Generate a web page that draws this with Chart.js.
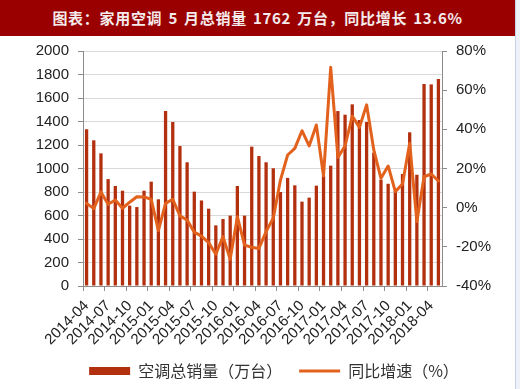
<!DOCTYPE html>
<html>
<head>
<meta charset="utf-8">
<script src="https://cdn.jsdelivr.net/npm/chart.js@4/dist/chart.umd.min.js"></script>
<style>
  html, body { margin: 0; padding: 0; background: #ffffff; }
  #wrap { position: relative; width: 520px; height: 389px; overflow: hidden; }
  #title {
    position: absolute; left: 0; top: 0; width: 515px; height: 36px;
    background: #9b0000; color: #f4ecec;
    font-family: "Noto Sans CJK SC", sans-serif; font-size: 15px; font-weight: bold;
    line-height: 36px; text-align: center; white-space: pre; letter-spacing: 0.7px; word-spacing: 2px;
  }
  #edge { position: absolute; left: 515px; top: 0; width: 5px; height: 389px; background: #eef2f8; border-left: 1px solid #c5d2e6; }
  canvas { position: absolute; left: 0; top: 0; }
</style>
</head>
<body>
<div id="wrap">
  <canvas id="c" width="520" height="389"></canvas>
  <div id="title">图表：家用空调 5 月总销量 1762 万台，同比增长 13.6%</div>
  <div id="edge"></div>
</div>
<script>
const months = [
  "2014-04","2014-05","2014-06","2014-07","2014-08","2014-09","2014-10","2014-11","2014-12",
  "2015-01","2015-02","2015-03","2015-04","2015-05","2015-06","2015-07","2015-08","2015-09","2015-10","2015-11","2015-12",
  "2016-01","2016-02","2016-03","2016-04","2016-05","2016-06","2016-07","2016-08","2016-09","2016-10","2016-11","2016-12",
  "2017-01","2017-02","2017-03","2017-04","2017-05","2017-06","2017-07","2017-08","2017-09","2017-10","2017-11","2017-12",
  "2018-01","2018-02","2018-03","2018-04","2018-05"
];
const salesVolume = [
  1334,1240,1129,910,851,811,684,672,811,
  888,738,1489,1396,1191,1053,803,728,658,516,570,599,
  851,599,1186,1106,1053,1002,800,920,857,718,752,854,
  936,1024,1489,1458,1546,1413,1396,1135,905,870,812,953,
  1308,947,1719,1716,1762
];
const yoyGrowth = [
  2.2,-0.5,8.0,1.7,3.9,-0.3,2.8,5.6,5.5,
  4.3,-11.7,2.2,4.3,-4.2,-6.3,-12.5,-14.5,-17.8,-23.8,-14.8,-26.4,
  -4.6,-19.1,-20.2,-20.8,-12.2,-5.4,14.1,26.9,30.3,39.3,31.5,42.2,
  16.2,71.7,25.7,31.5,46.8,41.0,52.5,29.5,15.0,21.3,8.2,12.1,
  32.9,-7.1,15.8,17.2,13.6
];
const seriesNames = ["空调总销量（万台）", "同比增速（%）"];
const leftTicks = { min: 0, max: 2000, step: 200 };
const rightTicks = { min: -40, max: 80, step: 20 };
const labelEvery = 3;

const barColor = "#b3300f";
const lineColor = "#e2611c";
const tickFont = { family: "'Liberation Sans', 'Open Sans', sans-serif", size: 15 };

const legendShift = {
  id: "legendShift",
  afterLayout(chart) {
    const lg = chart.legend;
    if (lg) { lg.left += 14; lg.right += 14; }
  }
};

const chart = new Chart(document.getElementById("c"), {
  data: {
    labels: months,
    datasets: [
      {
        type: "bar", label: seriesNames[0], data: salesVolume, yAxisID: "y",
        backgroundColor: barColor, borderWidth: 0, order: 1,
        barPercentage: 0.46, categoryPercentage: 1.0, pointStyle: "rect"
      },
      {
        type: "line", label: seriesNames[1], data: yoyGrowth, yAxisID: "y1",
        borderColor: lineColor, backgroundColor: lineColor, borderWidth: 3,
        pointRadius: 0, tension: 0, order: 0, pointStyle: "line",
        borderJoinStyle: "round", borderCapStyle: "round"
      }
    ]
  },
  plugins: [legendShift],
  options: {
    responsive: false, animation: false, devicePixelRatio: 1,
    layout: { padding: { top: 51, left: 0, right: 0, bottom: 2 } },
    plugins: {
      tooltip: { enabled: false },
      legend: {
        position: "bottom",
        labels: {
          usePointStyle: true, pointStyleWidth: 41, boxHeight: 8,
          padding: 17, color: "#333",
          font: { family: "'Noto Sans CJK SC', sans-serif", size: 16 },
          sort: (a, b) => a.datasetIndex - b.datasetIndex
        }
      }
    },
    scales: {
      x: {
        type: "category", offset: true,
        grid: {
          offset: true, drawOnChartArea: false, drawTicks: true, tickLength: 5,
          color: (ctx) => (ctx.index !== undefined && ctx.index % labelEvery === 0) ? "#8c8c8c" : "rgba(0,0,0,0)"
        },
        border: { display: true, color: "#8c8c8c", width: 1 },
        ticks: {
          autoSkip: false, minRotation: 45, maxRotation: 45, padding: 6,
          color: "#222", font: tickFont,
          callback: function (v, i) { return i % labelEvery === 0 ? this.getLabelForValue(v) : ""; }
        },
        afterFit: (s) => { s.height = 60; }
      },
      y: {
        position: "left", min: leftTicks.min, max: leftTicks.max,
        grid: { color: "#d9d9d9", tickColor: "#8c8c8c", tickLength: 5, lineWidth: 1 },
        border: { display: true, color: "#8c8c8c" },
        ticks: { stepSize: leftTicks.step, color: "#222", font: tickFont, padding: 9,
          callback: (v) => String(v) },
        afterFit: (s) => { s.width = 83; }
      },
      y1: {
        position: "right", min: rightTicks.min, max: rightTicks.max,
        grid: { drawOnChartArea: false, tickColor: "#8c8c8c", tickLength: 5 },
        border: { display: true, color: "#8c8c8c" },
        ticks: { stepSize: rightTicks.step, color: "#222", font: tickFont, padding: 9,
          callback: (v) => v + "%" },
        afterFit: (s) => { s.width = 78; }
      }
    }
  }
});
const lgd = chart.legend;
const origFit = lgd.fit.bind(lgd);
lgd.fit = function () { origFit(); this.height = 41; };
chart.update();
</script>
</body>
</html>
